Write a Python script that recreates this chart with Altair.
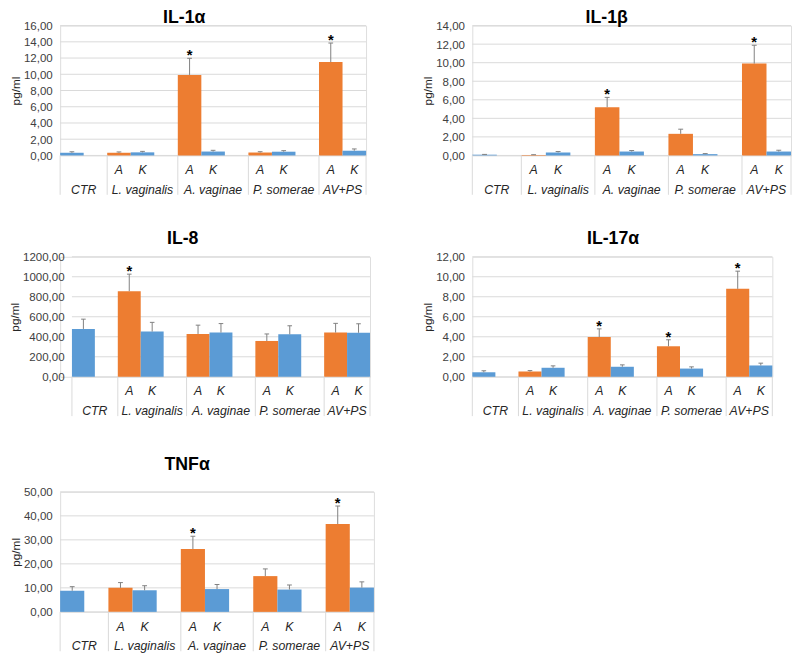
import altair as alt
import pandas as pd

# ---------------- data ----------------
GROUPS = ["CTR", "L. vaginalis", "A. vaginae", "P. somerae", "AV+PS"]
# index 0 = CTR (no "A" bar)
IL1A_A = [None, 0.33, 9.92, 0.36, 11.50]
IL1A_A_ERR = [None, 0.10, 2.05, 0.10, 2.35]
IL1A_K = [0.33, 0.38, 0.48, 0.46, 0.58]
IL1A_K_ERR = [0.12, 0.12, 0.15, 0.13, 0.22]
IL1A_STAR = [False, False, True, False, True]

IL1B_A = [None, 0.06, 5.20, 2.33, 9.90]
IL1B_A_ERR = [None, 0.02, 1.06, 0.50, 1.98]
IL1B_K = [0.08, 0.32, 0.42, 0.14, 0.42]
IL1B_K_ERR = [0.03, 0.10, 0.11, 0.06, 0.14]
IL1B_STAR = [False, False, True, False, True]

IL8_A = [None, 856, 428, 358, 442]
IL8_A_ERR = [None, 170, 88, 70, 92]
IL8_K = [478, 452, 442, 424, 440]
IL8_K_ERR = [98, 92, 90, 86, 90]
IL8_STAR = [False, True, False, False, False]

IL17_A = [None, 0.52, 3.97, 3.05, 8.79]
IL17_A_ERR = [None, 0.10, 0.82, 0.65, 1.77]
IL17_K = [0.45, 0.90, 1.00, 0.82, 1.13]
IL17_K_ERR = [0.15, 0.19, 0.19, 0.17, 0.23]
IL17_STAR = [False, False, True, True, True]

TNF_A = [None, 10.0, 26.2, 14.9, 36.6]
TNF_A_ERR = [None, 2.2, 5.3, 3.0, 7.5]
TNF_K = [8.8, 9.0, 9.5, 9.3, 10.1]
TNF_K_ERR = [1.7, 1.9, 1.9, 1.9, 2.4]
TNF_STAR = [False, False, True, False, True]

SERIES = ["A", "K"]
NSLOTS = 13  # CTR, gap, then (A, K, gap) x 3, then A, K

ORANGE = "#ED7D31"
BLUE = "#5B9BD5"
GRID = "#d9d9d9"
FONT = "Liberation Sans"
TEXT = "#262626"


def build_panel(title, a, a_err, k, k_err, star, ymax, ystep, width, height, toff,
                lshift=0, tdx=0):
    rows = []
    for i, g in enumerate(GROUPS):
        if i == 0:
            rows.append(dict(slot=0, s="K", v=k[0], e=k_err[0], star=False, grp=g))
        else:
            rows.append(dict(slot=3 * i - 1, s="A", v=a[i], e=a_err[i], star=star[i], grp=g))
            rows.append(dict(slot=3 * i, s="K", v=k[i], e=k_err[i], star=False, grp=g))
    df = pd.DataFrame(rows)
    df["x0"] = df["slot"]
    df["x1"] = df["slot"] + 1
    df["xc"] = df["slot"] + 0.5
    df["zero"] = 0.0
    df["top"] = df["v"] + df["e"]
    df["cl"] = df["xc"] - 0.1
    df["cr"] = df["xc"] + 0.1

    lab = df[df["grp"] != "CTR"]
    stars = df[df["star"]]

    seps = pd.DataFrame({"pos": [0, 2, 5, 8, 11, 13]})
    glab = pd.DataFrame({"pos": [1.0, 3.5, 6.5, 9.5, 12.0], "name": GROUPS})

    ticks = list(range(0, int(ymax) + 1, int(ystep)))
    grid = pd.DataFrame({"t": ticks, "g0": 0, "g1": NSLOTS})

    xscale = alt.Scale(domain=[-lshift / width * NSLOTS, NSLOTS], nice=False, zero=False)
    yscale = alt.Scale(domain=[0, ymax], nice=False)
    yaxis = alt.Axis(
        values=ticks,
        labelExpr="replace(format(datum.value, '.2f'), '.', ',')",
        labelOverlap=False,
        grid=False, domain=False, ticks=False, offset=-lshift,
        labelFont=FONT, labelFontSize=11.7, labelColor="#404040", labelPadding=8,
        title="pg/ml", titleFont=FONT, titleFontSize=12, titleFontWeight="normal",
        titleColor=TEXT, titlePadding=1,
    )

    gridl = alt.Chart(grid).mark_rule(color=GRID, strokeWidth=1).encode(
        x=alt.X("g0:Q", scale=xscale, axis=None),
        x2="g1:Q",
        y=alt.Y("t:Q", scale=yscale, axis=yaxis),
    )
    base = alt.Chart(df)
    bars = base.mark_bar().encode(
        x=alt.X("x0:Q", scale=xscale, axis=None),
        x2="x1:Q",
        y=alt.Y("v:Q", scale=yscale, axis=yaxis),
        y2="zero:Q",
        color=alt.Color("s:N", scale=alt.Scale(domain=SERIES, range=[ORANGE, BLUE]), legend=None),
    )
    err = base.mark_rule(color="#7f7f7f", strokeWidth=1).encode(
        x=alt.X("xc:Q", scale=xscale, axis=None),
        y=alt.Y("v:Q", scale=yscale, axis=yaxis),
        y2="top:Q",
    )
    cap = base.mark_rule(color="#7f7f7f", strokeWidth=1).encode(
        x=alt.X("cl:Q", scale=xscale, axis=None),
        x2="cr:Q",
        y=alt.Y("top:Q", scale=yscale, axis=yaxis),
    )
    star_l = alt.Chart(stars).mark_text(
        text="*", font=FONT, fontSize=15, fontWeight="bold", color="#000",
        baseline="alphabetic", dy=2,
    ).encode(
        x=alt.X("xc:Q", scale=xscale, axis=None),
        y=alt.Y("top:Q", scale=yscale, axis=yaxis),
    )
    sep = alt.Chart(seps).mark_rule(color=GRID, strokeWidth=1).encode(
        x=alt.X("pos:Q", scale=xscale, axis=None),
        y=alt.value(height),
        y2=alt.value(height + 40),
    )
    ak = alt.Chart(lab).mark_text(
        font=FONT, fontSize=12.5, fontStyle="italic", color=TEXT, baseline="middle",
    ).encode(
        x=alt.X("xc:Q", scale=xscale, axis=None),
        y=alt.value(height + 15),
        text="s:N",
    )
    gl = alt.Chart(glab).mark_text(
        font=FONT, fontSize=12.5, fontStyle="italic", color=TEXT, baseline="middle",
    ).encode(
        x=alt.X("pos:Q", scale=xscale, axis=None),
        y=alt.value(height + 35),
        text="name:N",
    )
    return alt.layer(gridl, bars, err, cap, star_l, sep, ak, gl).properties(
        width=width + lshift,
        height=height,
        title=alt.TitleParams(
            text=title, font=FONT, fontSize=18, fontWeight="bold", color="#000",
            anchor="middle", frame="bounds", offset=toff, dx=tdx,
        ),
    )


p1 = build_panel("IL-1α", IL1A_A, IL1A_A_ERR, IL1A_K, IL1A_K_ERR, IL1A_STAR, 16, 2, 311, 132, -6.5, tdx=-4)
p2 = build_panel("IL-1β", IL1B_A, IL1B_A_ERR, IL1B_K, IL1B_K_ERR, IL1B_STAR, 14, 2, 324, 132, -6.5)
p3 = build_panel("IL-8", IL8_A, IL8_A_ERR, IL8_K, IL8_K_ERR, IL8_STAR, 1200, 200, 303, 122, 4,
                 lshift=12, tdx=-7)
p4 = build_panel("IL-17α", IL17_A, IL17_A_ERR, IL17_K, IL17_K_ERR, IL17_STAR, 12, 2, 305, 122, 4, tdx=16)
p5 = build_panel("TNFα", TNF_A, TNF_A_ERR, TNF_K, TNF_K_ERR, TNF_STAR, 50, 10, 319, 122, 13, tdx=-5)

left = alt.vconcat(alt.vconcat(p1, p3, spacing=33), p5, spacing=38)
right = alt.vconcat(p2, p4, spacing=33)
chart = (
    alt.hconcat(left, right, spacing=47)
    .properties(padding={"top": -4.5, "left": 0, "right": 0, "bottom": -1})
    .configure_view(strokeWidth=0)
    .configure(font=FONT)
)

chart.save("out.html", embed_options={"renderer": "svg", "actions": False})
